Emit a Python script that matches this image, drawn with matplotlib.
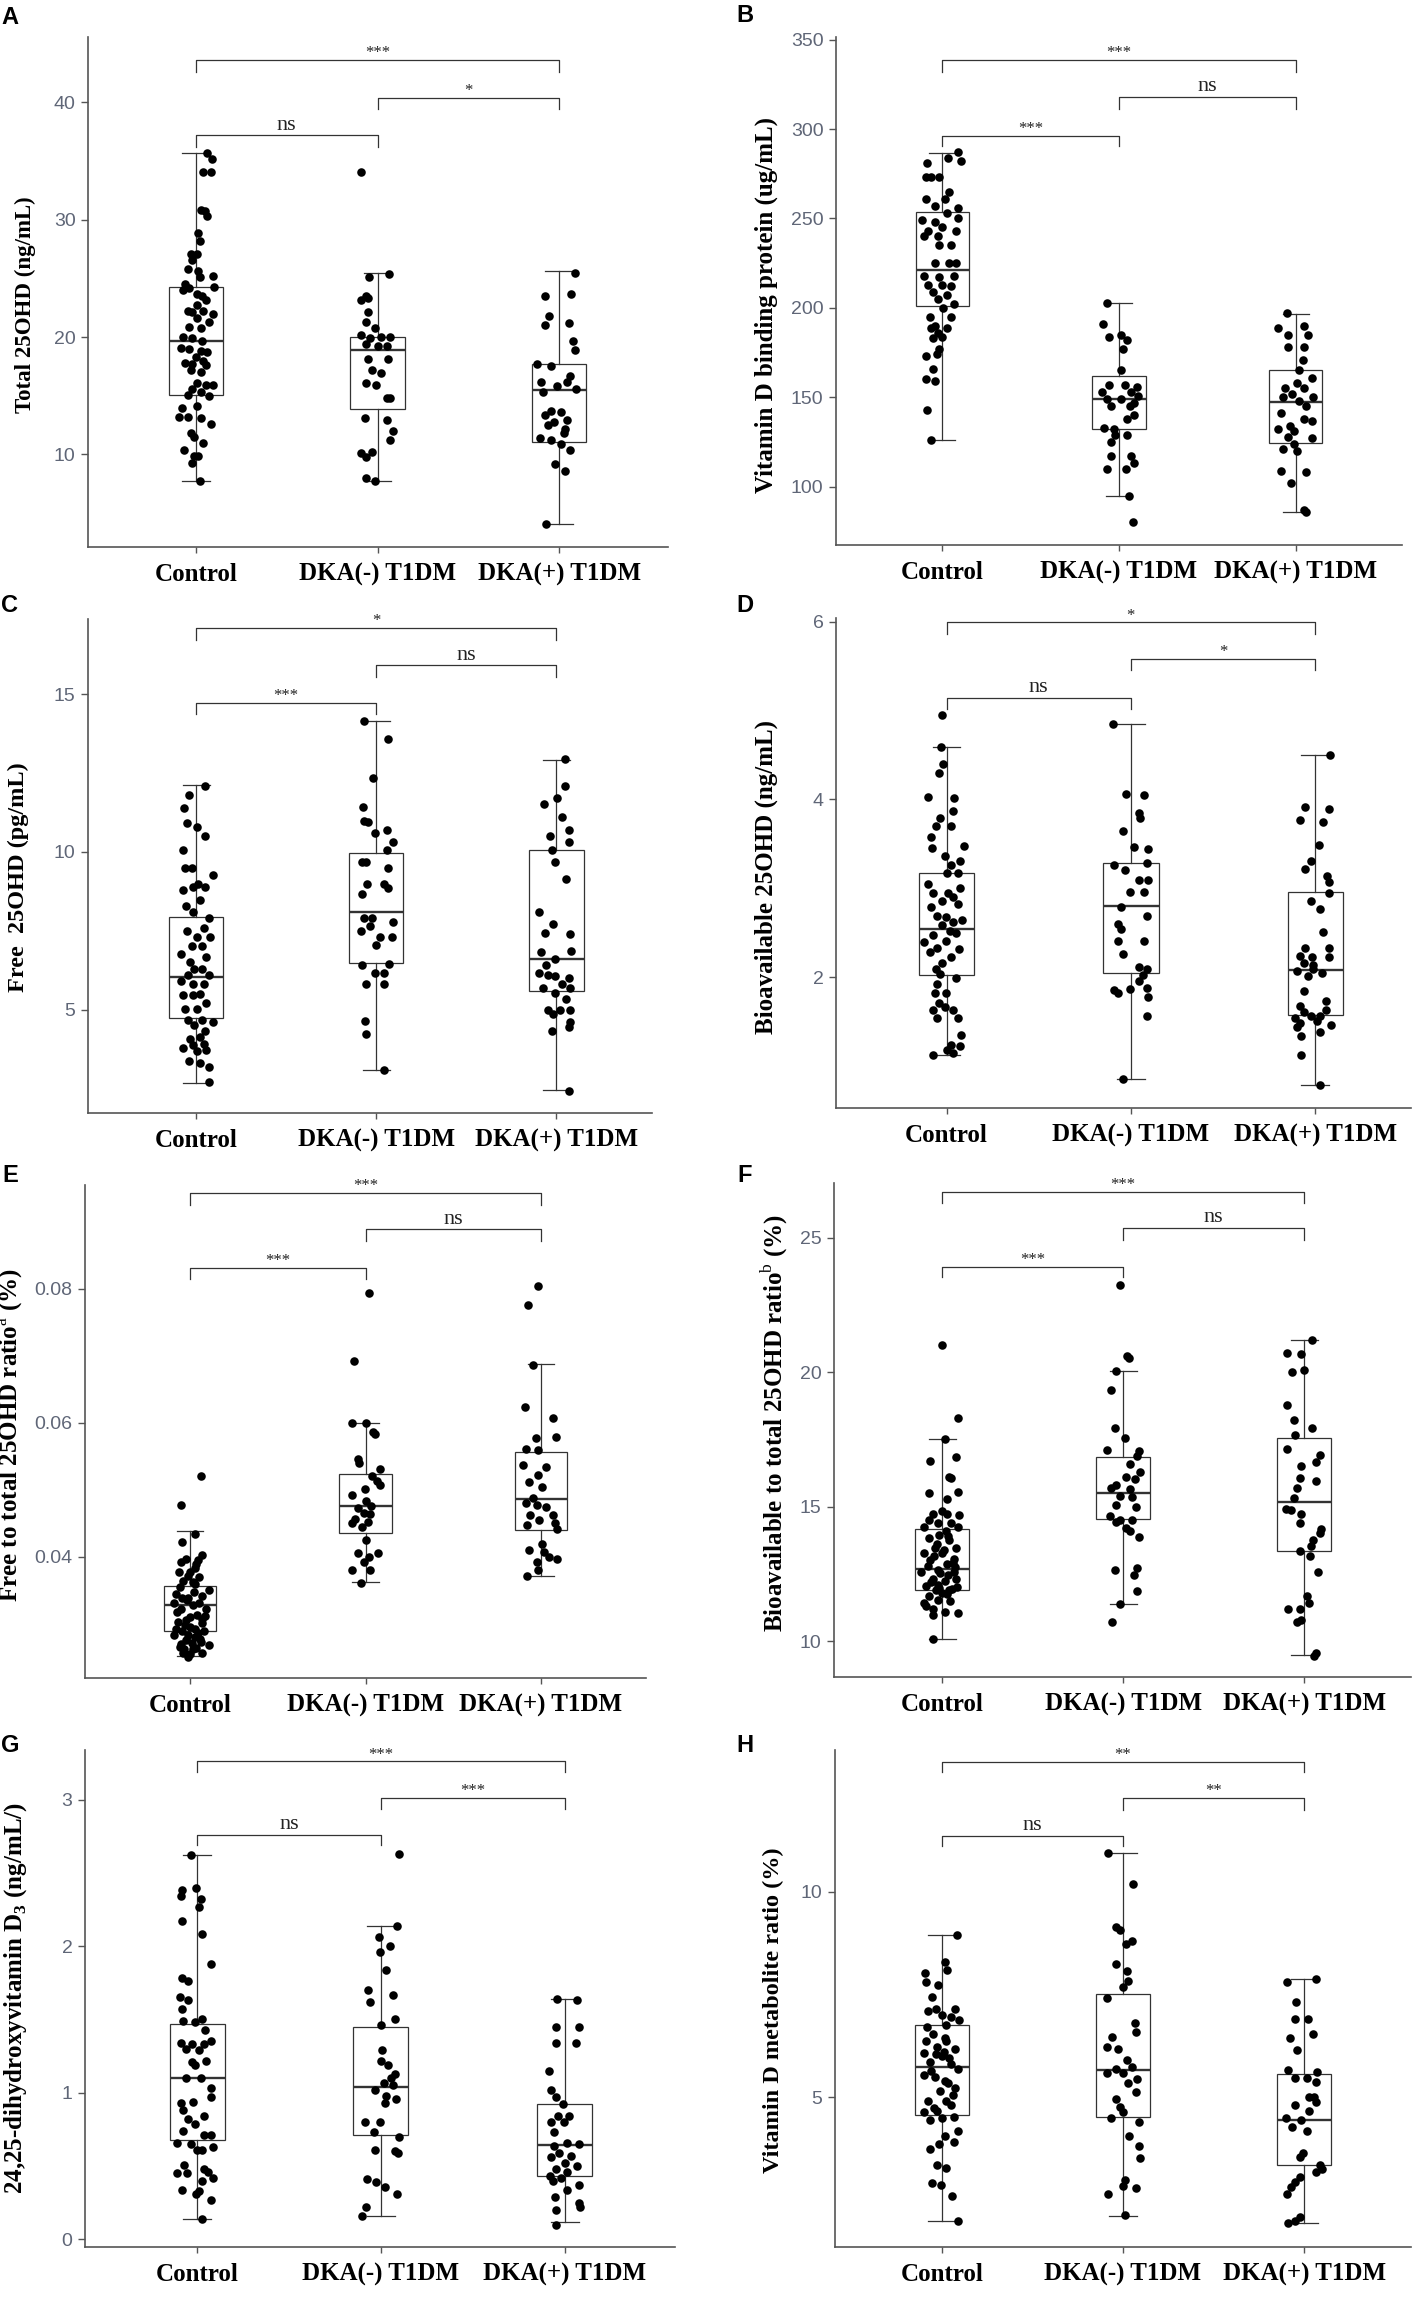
import matplotlib
matplotlib.use("Agg")
import matplotlib.pyplot as plt

plt.rcParams['mathtext.fontset'] = 'custom'
plt.rcParams['mathtext.rm'] = 'Liberation Serif'
plt.rcParams['mathtext.bf'] = 'Liberation Serif:bold'

groups = ["Control", "DKA(-) T1DM", "DKA(+) T1DM"]

# ---- data: (jitter, value) per point, box stats (whislo, q1, med, q3, whishi),
# ---- significance brackets (group1, group2, bar height, tip end, label)

# A: Total 25OHD
a_control = [(0.06, 35.7), (0.09, 35.2), (0.04, 34.1), (0.085, 34.1), (0.03, 30.8), (0.05, 30.7),
             (0.06, 30.3), (0.01, 28.9), (0.02, 28.2), (-0.025, 27.1), (0.005, 27.1), (-0.02, 26.6),
             (-0.045, 25.8), (0.01, 25.6), (0.095, 25.2), (0.02, 25.1), (-0.06, 24.5), (-0.07, 24.0),
             (-0.04, 24.2), (0.1, 24.3), (0.005, 23.7), (0.035, 23.5), (0.055, 23.2), (0.005, 22.7),
             (-0.045, 22.2), (-0.02, 22.1), (0.04, 22.2), (0.095, 22.0), (0.07, 21.3), (0.005, 21.6),
             (-0.04, 20.9), (0.03, 20.8), (-0.07, 20.0), (-0.02, 19.9), (0.035, 19.7), (-0.08, 19.1),
             (-0.04, 19.0), (0.025, 18.8), (0.06, 18.7), (0.0, 18.3), (0.04, 18.0), (-0.06, 17.8),
             (-0.02, 17.7), (0.055, 17.6), (-0.03, 17.2), (0.03, 17.0), (0.005, 16.1), (0.055, 15.9),
             (0.095, 15.9), (-0.02, 15.6), (0.025, 15.3), (-0.045, 15.1), (0.07, 15.0), (-0.075, 14.0),
             (0.005, 14.1), (-0.095, 13.2), (-0.045, 13.2), (0.03, 13.1), (0.085, 12.6), (-0.03, 11.8),
             (-0.01, 11.5), (0.04, 11.0), (-0.065, 10.4), (-0.01, 9.9), (0.01, 9.9), (-0.02, 9.3),
             (0.02, 7.7)]
a_dka_neg = [(-0.09, 34.1), (0.065, 25.4), (-0.045, 25.1), (-0.065, 23.5), (-0.09, 23.2), (-0.05, 23.3),
             (-0.05, 22.1), (-0.065, 21.3), (-0.015, 20.8), (-0.09, 20.2), (-0.04, 19.9), (0.02, 20.0),
             (0.07, 20.0), (-0.065, 19.4), (0.0, 19.2), (0.05, 19.2), (-0.05, 18.1), (0.06, 18.1),
             (-0.03, 17.2), (0.02, 16.9), (-0.065, 16.1), (-0.01, 15.9), (0.05, 14.8), (0.07, 14.8),
             (-0.07, 13.1), (0.05, 12.9), (0.085, 12.0), (0.07, 11.2), (-0.09, 10.1), (-0.03, 10.2),
             (-0.065, 9.8), (-0.065, 8.0), (-0.015, 7.7)]
a_dka_pos = [(0.09, 25.5), (-0.08, 23.5), (0.065, 23.7), (-0.055, 21.8), (-0.08, 21.0), (0.055, 21.2),
             (0.075, 19.7), (0.09, 18.9), (-0.12, 17.7), (-0.045, 17.5), (0.06, 16.7), (0.045, 16.2),
             (-0.1, 16.2), (-0.01, 15.8), (-0.09, 15.3), (0.095, 15.6), (-0.045, 13.7), (0.01, 13.6),
             (-0.08, 13.4), (0.045, 12.9), (-0.03, 12.8), (-0.06, 12.5), (0.035, 12.2), (0.025, 11.8),
             (-0.105, 11.4), (-0.045, 11.2), (0.01, 10.9), (0.06, 10.4), (-0.02, 9.2), (0.035, 8.6),
             (-0.07, 4.1)]
a_boxes = [(7.7, 15.1, 19.7, 24.3, 35.7), (7.7, 13.9, 18.9, 20.0, 25.5), (4.1, 11.1, 15.5, 17.7, 25.6)]
a_brackets = [(1, 3, 43.6, 42.55, "***"), (2, 3, 40.35, 39.4, "*"), (1, 2, 37.2, 36.2, "ns")]

# B: Vitamin D binding protein
b_control = [(0.09, 287), (0.035, 284), (0.105, 282), (-0.085, 281), (-0.065, 273), (-0.09, 273),
             (-0.015, 273), (0.04, 265), (0.015, 261), (-0.09, 261), (-0.04, 257), (0.09, 256),
             (0.025, 253), (0.09, 250), (-0.115, 249), (-0.04, 248), (-0.08, 243), (0.0, 245),
             (0.08, 243), (-0.105, 240), (-0.025, 240), (0.05, 235), (-0.015, 235), (0.04, 225),
             (-0.04, 225), (0.08, 225), (-0.105, 218), (-0.015, 217), (0.065, 218), (-0.08, 213),
             (0.0, 213), (0.05, 212), (-0.05, 209), (0.025, 207), (-0.025, 205), (0.065, 202),
             (0.005, 200), (-0.07, 195), (0.05, 195), (-0.04, 190), (0.025, 189), (-0.065, 189),
             (-0.025, 186), (-0.05, 183), (0.0, 184), (-0.015, 177), (-0.03, 174), (-0.09, 173),
             (-0.05, 166), (-0.09, 160), (-0.04, 159), (-0.085, 143), (-0.065, 126)]
b_dka_neg = [(-0.07, 203), (-0.09, 191), (0.01, 185), (-0.055, 184), (0.045, 182), (0.02, 177),
             (0.01, 165), (0.035, 157), (-0.055, 157), (0.1, 156), (-0.095, 153), (0.07, 153),
             (0.11, 151), (-0.07, 149), (0.01, 149), (0.085, 147), (-0.045, 145), (0.06, 145),
             (0.045, 138), (0.085, 140), (-0.085, 133), (-0.03, 132), (-0.02, 129), (0.045, 129),
             (-0.045, 125), (-0.045, 117), (0.07, 117), (0.085, 113), (-0.07, 110), (0.04, 110),
             (0.055, 95), (0.08, 80)]
b_dka_pos = [(-0.05, 197), (-0.1, 189), (0.045, 190), (-0.045, 185), (0.07, 185), (0.045, 178),
             (-0.045, 178), (0.04, 171), (0.015, 165), (0.09, 161), (0.005, 158), (-0.06, 155),
             (0.045, 155), (-0.02, 152), (-0.07, 150), (0.095, 150), (0.02, 148), (0.055, 145),
             (-0.085, 141), (0.045, 138), (0.09, 137), (-0.035, 134), (-0.1, 132), (-0.01, 131),
             (-0.045, 128), (0.09, 127), (-0.01, 124), (-0.07, 121), (0.005, 120), (-0.085, 109),
             (0.055, 108), (-0.03, 102), (0.045, 87), (0.055, 86)]
b_boxes = [(126, 200.9, 221.2, 253.8, 286.9), (95, 132.3, 148.8, 161.8, 203), (85.7, 124.4, 147.1, 165.3, 196.8)]
b_brackets = [(1, 3, 338.6, 331.9, "***"), (2, 3, 318, 311, "ns"), (1, 2, 296.4, 290.5, "***")]

# C: Free 25OHD
c_control = [(0.05, 12.1), (-0.04, 11.8), (-0.065, 11.4), (-0.05, 10.9), (0.005, 10.8), (0.05, 10.5),
             (-0.075, 10.05), (-0.06, 9.5), (-0.025, 9.5), (0.095, 9.25), (0.01, 8.97), (-0.075, 8.8),
             (-0.02, 8.9), (0.05, 8.9), (-0.055, 8.28), (0.02, 8.47), (-0.02, 8.08), (0.07, 7.9),
             (-0.05, 7.5), (0.045, 7.6), (0.005, 7.3), (0.075, 7.3), (-0.025, 7.0), (0.03, 7.0),
             (-0.085, 6.77), (0.055, 6.65), (-0.035, 6.5), (-0.01, 6.3), (0.03, 6.3), (-0.045, 6.1),
             (0.07, 6.1), (-0.085, 5.9), (-0.02, 5.8), (0.045, 5.8), (0.02, 5.5), (-0.075, 5.45),
             (-0.02, 5.45), (0.055, 5.2), (-0.06, 5.03), (0.005, 5.03), (-0.045, 4.68), (0.03, 4.68),
             (0.095, 4.6), (-0.01, 4.5), (0.05, 4.32), (-0.035, 4.05), (0.02, 4.14), (-0.02, 3.88),
             (0.045, 3.9), (-0.075, 3.78), (0.005, 3.69), (0.055, 3.72), (-0.04, 3.37), (0.02, 3.3),
             (0.07, 3.19), (0.07, 2.7)]
c_dka_neg = [(-0.07, 14.14), (0.065, 13.59), (-0.02, 12.34), (-0.075, 11.42), (-0.07, 10.98), (-0.045, 10.94),
             (0.06, 10.7), (-0.005, 10.6), (0.09, 10.3), (0.06, 10.05), (-0.08, 9.69), (-0.055, 9.69),
             (0.065, 9.49), (-0.05, 8.97), (0.045, 8.97), (0.065, 8.85), (-0.08, 8.65), (-0.07, 7.9),
             (-0.025, 7.9), (0.095, 7.78), (-0.085, 7.48), (-0.035, 7.66), (0.02, 7.3), (0.0, 7.06),
             (0.085, 7.3), (-0.08, 6.41), (0.07, 6.43), (-0.01, 6.17), (0.04, 6.17), (-0.055, 5.81),
             (0.04, 5.81), (-0.06, 4.64), (-0.055, 4.24), (0.045, 3.07)]
c_dka_pos = [(0.045, 12.95), (0.045, 12.1), (-0.07, 11.5), (0.005, 11.7), (0.03, 11.1), (-0.035, 10.5),
             (0.07, 10.7), (0.07, 10.3), (-0.025, 10.05), (-0.01, 9.69), (0.05, 9.13), (-0.095, 8.08),
             (-0.02, 7.7), (-0.065, 7.42), (0.075, 7.39), (0.08, 6.86), (-0.085, 6.83), (-0.01, 6.59),
             (-0.06, 6.41), (-0.095, 6.17), (-0.045, 6.11), (-0.01, 6.05), (0.07, 5.99), (0.03, 5.81),
             (-0.075, 5.67), (-0.01, 5.51), (0.075, 5.67), (0.055, 5.33), (-0.045, 5.0), (0.02, 5.0),
             (-0.02, 4.86), (0.075, 5.0), (0.07, 4.44), (-0.025, 4.32), (0.075, 4.62), (0.07, 2.41)]
c_boxes = [(2.67, 4.74, 6.03, 7.92, 12.11), (3.07, 6.47, 8.1, 9.96, 14.14), (2.45, 5.6, 6.59, 10.05, 12.91)]
c_brackets = [(1, 3, 17.09, 16.71, "*"), (2, 3, 15.92, 15.53, "ns"), (1, 2, 14.73, 14.37, "***")]

# D: Bioavailable 25OHD
d_control = [(-0.025, 4.95), (-0.03, 4.59), (-0.02, 4.4), (-0.04, 4.3), (-0.1, 4.03), (0.04, 4.01),
             (0.035, 3.87), (-0.035, 3.79), (0.025, 3.7), (-0.055, 3.7), (-0.085, 3.58), (-0.08, 3.45),
             (0.095, 3.47), (-0.01, 3.36), (0.075, 3.3), (0.025, 3.26), (0.06, 3.17), (0.0, 3.17),
             (-0.1, 3.05), (0.075, 3.0), (-0.075, 2.94), (0.01, 2.94), (0.035, 2.9), (-0.025, 2.86),
             (0.06, 2.82), (-0.085, 2.79), (-0.05, 2.69), (-0.005, 2.67), (0.035, 2.62), (0.085, 2.64),
             (-0.025, 2.58), (0.02, 2.52), (0.05, 2.5), (-0.075, 2.47), (-0.125, 2.39), (-0.005, 2.41),
             (-0.05, 2.33), (0.07, 2.31), (-0.09, 2.28), (0.025, 2.22), (-0.025, 2.16), (-0.06, 2.09),
             (-0.035, 2.03), (0.05, 1.99), (-0.05, 1.92), (-0.065, 1.82), (-0.005, 1.82), (-0.04, 1.71),
             (-0.01, 1.66), (-0.075, 1.63), (0.035, 1.63), (-0.05, 1.54), (0.06, 1.54), (0.08, 1.35),
             (0.025, 1.24), (0.0, 1.18), (0.075, 1.22), (-0.075, 1.12), (0.035, 1.14)]
d_dka_neg = [(-0.095, 4.85), (-0.025, 4.06), (0.07, 4.05), (0.045, 3.85), (0.05, 3.79), (-0.045, 3.64),
             (0.015, 3.46), (0.095, 3.44), (0.085, 3.28), (-0.09, 3.26), (-0.03, 3.2), (0.045, 3.09),
             (0.095, 3.09), (-0.005, 2.96), (0.07, 2.96), (-0.055, 2.79), (0.085, 2.69), (-0.07, 2.6),
             (-0.055, 2.54), (-0.07, 2.41), (0.07, 2.41), (-0.045, 2.26), (0.045, 2.11), (0.085, 2.09),
             (0.065, 2.02), (0.045, 1.95), (0.085, 1.88), (-0.09, 1.85), (-0.07, 1.82), (-0.005, 1.86),
             (0.095, 1.78), (0.085, 1.56), (-0.04, 0.85)]
d_dka_pos = [(0.08, 4.5), (-0.055, 3.91), (0.075, 3.89), (-0.08, 3.77), (0.045, 3.75), (0.02, 3.49),
             (-0.02, 3.31), (-0.055, 3.22), (0.065, 3.14), (0.075, 3.07), (0.075, 2.95), (-0.025, 2.86),
             (0.025, 2.77), (0.04, 2.51), (-0.055, 2.33), (0.075, 2.33), (-0.085, 2.24), (-0.015, 2.22),
             (0.075, 2.22), (-0.06, 2.16), (-0.01, 2.14), (-0.1, 2.07), (-0.01, 2.09), (-0.04, 2.01),
             (0.035, 2.05), (-0.06, 1.84), (0.06, 1.73), (-0.08, 1.67), (-0.06, 1.61), (-0.11, 1.54),
             (-0.025, 1.56), (0.06, 1.63), (0.025, 1.56), (-0.085, 1.48), (-0.1, 1.44), (0.085, 1.46),
             (0.01, 1.5), (-0.075, 1.34), (0.025, 1.38), (-0.075, 1.12), (0.025, 0.79)]
d_boxes = [(1.12, 2.02, 2.54, 3.17, 4.59), (0.85, 2.04, 2.8, 3.28, 4.85), (0.78, 1.57, 2.08, 2.96, 4.5)]
d_brackets = [(1, 3, 5.99, 5.86, "*"), (2, 3, 5.58, 5.45, "*"), (1, 2, 5.14, 5.02, "ns")]

# E: Free to total 25OHD ratio
e_control = [(0.06, 0.0521), (-0.055, 0.0478), (0.025, 0.0434), (-0.045, 0.0422), (0.065, 0.0403),
             (-0.025, 0.0397), (0.035, 0.0389), (-0.065, 0.0378), (0.0, 0.0378), (0.05, 0.037),
             (-0.04, 0.0364), (0.025, 0.0359), (0.105, 0.035), (-0.08, 0.0345), (-0.015, 0.0339),
             (0.065, 0.0342), (-0.095, 0.0331), (0.015, 0.0328), (-0.05, 0.0323), (0.09, 0.0323),
             (0.04, 0.0314), (-0.025, 0.0306), (-0.07, 0.0303), (0.065, 0.0301), (0.0, 0.0295),
             (-0.045, 0.029), (0.08, 0.029), (-0.09, 0.0284), (0.025, 0.0281), (-0.025, 0.0276),
             (0.06, 0.0273), (-0.05, 0.027), (0.105, 0.0268), (0.015, 0.0262), (-0.04, 0.0257),
             (0.065, 0.0257), (-0.015, 0.0251), (-0.06, 0.0355), (0.02, 0.0348), (-0.02, 0.0335),
             (0.05, 0.0332), (-0.075, 0.0318), (0.0, 0.031), (0.07, 0.0308), (-0.03, 0.0298),
             (0.03, 0.0293), (-0.08, 0.0292), (0.045, 0.0286), (-0.01, 0.0283), (0.01, 0.0272),
             (-0.06, 0.0266), (0.035, 0.0264), (0.0, 0.0255), (-0.035, 0.0262), (0.055, 0.0278),
             (-0.045, 0.0338), (0.085, 0.0312), (0.015, 0.0362), (-0.01, 0.0371), (0.03, 0.0384),
             (-0.055, 0.0392), (0.045, 0.0396)]
e_dka_neg = [(0.02, 0.0794), (-0.065, 0.0692), (0.0, 0.06), (-0.075, 0.0599), (0.045, 0.0586),
             (0.055, 0.0584), (-0.045, 0.0546), (-0.035, 0.054), (0.08, 0.0531), (0.035, 0.0521),
             (0.065, 0.0513), (0.085, 0.0508), (-0.005, 0.0502), (-0.075, 0.0493), (0.005, 0.0484),
             (0.03, 0.0476), (-0.04, 0.0473), (-0.01, 0.0465), (0.025, 0.0464), (-0.06, 0.0456),
             (0.015, 0.0452), (-0.02, 0.0445), (-0.075, 0.045), (0.005, 0.0425), (-0.045, 0.0406),
             (0.07, 0.0406), (0.02, 0.04), (-0.01, 0.0393), (-0.075, 0.0381), (0.025, 0.0381),
             (-0.025, 0.0361)]
e_dka_pos = [(-0.015, 0.0804), (-0.075, 0.0775), (-0.045, 0.0686), (-0.09, 0.0623), (0.07, 0.0607),
             (-0.03, 0.0578), (0.085, 0.0579), (-0.085, 0.0561), (-0.015, 0.056), (-0.1, 0.0537),
             (0.03, 0.0534), (-0.015, 0.0522), (-0.065, 0.0511), (0.005, 0.0504), (-0.045, 0.0488),
             (-0.085, 0.048), (-0.02, 0.0478), (0.03, 0.0474), (-0.06, 0.0463), (0.07, 0.0463),
             (-0.01, 0.0455), (0.08, 0.045), (-0.08, 0.0447), (0.09, 0.0441), (0.005, 0.0419),
             (-0.065, 0.0411), (0.02, 0.0407), (0.045, 0.04), (0.09, 0.0397), (-0.02, 0.0392),
             (-0.015, 0.0381), (-0.08, 0.0371)]
e_boxes = [(0.0252, 0.0289, 0.0328, 0.0357, 0.0439), (0.0362, 0.0436, 0.0476, 0.0524, 0.06),
           (0.0371, 0.044, 0.0486, 0.0557, 0.0687)]
e_brackets = [(1, 3, 0.09429, 0.09253, "***"), (2, 3, 0.08887, 0.08711, "ns"), (1, 2, 0.08315, 0.08149, "***")]

# F: Bioavailable to total 25OHD ratio
f_control = [(0.0, 21.0), (0.09, 18.3), (0.015, 17.5), (-0.065, 16.7), (0.075, 16.85), (0.04, 16.1),
             (0.05, 16.05), (-0.075, 15.5), (0.09, 15.55), (0.025, 15.27), (-0.05, 14.72), (0.025, 14.72),
             (0.095, 14.7), (-0.1, 14.24), (-0.025, 14.38), (0.05, 14.38), (0.09, 14.24), (-0.015, 13.96),
             (-0.075, 13.83), (0.04, 13.76), (0.075, 13.48), (-0.04, 13.48), (-0.1, 13.27), (0.0, 13.27),
             (0.065, 13.07), (-0.065, 13.0), (0.025, 12.86), (-0.025, 12.66), (-0.115, 12.59), (0.065, 12.59),
             (-0.05, 12.31), (0.015, 12.24), (0.075, 12.31), (-0.09, 12.04), (-0.015, 11.97), (0.04, 11.9),
             (-0.075, 11.69), (-0.025, 11.55), (0.025, 11.76), (-0.1, 11.42), (-0.05, 11.21), (0.015, 11.07),
             (0.09, 11.05), (-0.05, 10.96), (-0.05, 10.08), (-0.03, 13.6), (0.01, 13.4), (0.06, 12.9),
             (-0.08, 12.8), (0.03, 12.45), (-0.02, 12.1), (0.055, 11.95), (-0.06, 12.2), (0.0, 11.8),
             (0.08, 12.0), (-0.045, 13.15), (0.035, 13.9), (-0.07, 14.5), (0.02, 14.1), (0.07, 12.75),
             (-0.01, 12.55), (-0.09, 11.3), (0.045, 11.5), (0.0, 14.85), (-0.035, 11.9)]
f_dka_neg = [(-0.015, 23.25), (0.02, 20.6), (0.035, 20.54), (-0.04, 20.06), (-0.065, 19.33), (-0.045, 17.93),
             (0.01, 17.57), (-0.09, 17.1), (0.09, 17.06), (0.075, 16.88), (0.04, 16.58), (0.095, 16.3),
             (0.015, 16.1), (0.065, 16.03), (-0.04, 15.82), (-0.065, 15.68), (0.04, 15.64), (-0.015, 15.41),
             (0.05, 15.37), (-0.04, 15.06), (0.07, 14.99), (-0.075, 14.65), (-0.015, 14.51), (0.05, 14.51),
             (-0.04, 14.44), (0.015, 14.21), (0.04, 14.1), (0.085, 13.89), (-0.045, 12.66), (0.075, 12.72),
             (0.06, 12.45), (0.075, 11.86), (-0.02, 11.38), (-0.06, 10.73)]
f_dka_pos = [(0.045, 21.19), (-0.095, 20.73), (-0.015, 20.68), (-0.065, 20.02), (0.0, 20.09), (-0.095, 18.78),
             (-0.055, 18.23), (0.045, 17.93), (-0.05, 17.65), (-0.095, 17.16), (0.09, 16.92), (0.065, 16.65),
             (-0.015, 16.51), (-0.025, 16.05), (0.065, 15.96), (-0.04, 15.68), (-0.055, 15.34), (-0.1, 14.93),
             (-0.075, 14.86), (-0.015, 14.72), (-0.025, 14.4), (0.095, 14.17), (0.09, 14.03), (0.05, 13.76),
             (0.04, 13.55), (-0.025, 13.34), (0.03, 13.17), (0.075, 12.59), (0.015, 11.69), (0.025, 11.42),
             (-0.09, 11.21), (-0.025, 11.21), (-0.015, 10.8), (-0.04, 10.73), (0.065, 9.56), (0.055, 9.45)]
f_boxes = [(10.08, 11.9, 12.68, 14.17, 17.51), (11.38, 14.54, 15.5, 16.85, 20.06), (9.49, 13.37, 15.16, 17.57, 21.19)]
f_brackets = [(1, 3, 26.70, 26.28, "***"), (2, 3, 25.36, 24.93, "ns"), (1, 2, 23.92, 23.55, "***")]

# G: 24,25-dihydroxyvitamin D3
g_control = [(-0.035, 2.62), (-0.08, 2.38), (-0.005, 2.4), (-0.085, 2.34), (0.02, 2.32), (0.01, 2.27),
             (-0.08, 2.17), (0.025, 2.08), (0.075, 1.88), (-0.08, 1.78), (-0.05, 1.76), (-0.095, 1.65),
             (-0.05, 1.63), (-0.08, 1.57), (0.025, 1.5), (-0.075, 1.49), (-0.01, 1.48), (0.045, 1.43),
             (-0.085, 1.34), (-0.03, 1.33), (0.035, 1.33), (-0.06, 1.3), (0.01, 1.29), (0.075, 1.35),
             (-0.03, 1.21), (-0.01, 1.19), (0.05, 1.22), (-0.06, 1.1), (0.02, 1.1), (0.075, 1.03),
             (-0.085, 0.93), (-0.025, 0.94), (0.075, 0.97), (-0.075, 0.88), (0.035, 0.84), (-0.05, 0.82),
             (-0.01, 0.79), (-0.075, 0.74), (0.035, 0.71), (0.075, 0.71), (-0.11, 0.66), (-0.035, 0.65),
             (0.025, 0.61), (0.085, 0.63), (0.0, 0.61), (-0.07, 0.51), (0.035, 0.48), (-0.11, 0.45),
             (-0.055, 0.45), (0.06, 0.46), (0.085, 0.42), (0.025, 0.4), (-0.08, 0.34), (0.01, 0.33),
             (0.075, 0.27), (-0.005, 0.31), (0.025, 0.14)]
g_dka_neg = [(0.1, 2.63), (0.085, 2.14), (-0.01, 2.06), (0.05, 2.0), (-0.005, 1.96), (0.025, 1.84),
             (-0.07, 1.7), (-0.06, 1.62), (0.065, 1.67), (0.075, 1.5), (0.0, 1.46), (0.005, 1.29),
             (0.0, 1.22), (0.04, 1.19), (0.075, 1.13), (0.055, 1.1), (0.015, 1.07), (0.065, 1.05),
             (-0.03, 1.02), (0.03, 0.98), (0.08, 0.96), (0.02, 0.93), (-0.085, 0.8), (-0.005, 0.8),
             (-0.04, 0.73), (0.1, 0.7), (-0.03, 0.61), (0.095, 0.59), (0.075, 0.6), (-0.075, 0.41),
             (-0.025, 0.39), (0.02, 0.36), (0.09, 0.31), (-0.08, 0.22), (-0.105, 0.16)]
g_dka_pos = [(-0.04, 1.64), (0.065, 1.63), (-0.05, 1.45), (0.08, 1.45), (-0.05, 1.34), (0.06, 1.34),
             (-0.085, 1.15), (-0.075, 1.02), (-0.05, 0.97), (-0.01, 0.92), (-0.035, 0.84), (0.025, 0.84),
             (-0.075, 0.8), (-0.005, 0.8), (-0.06, 0.73), (0.01, 0.66), (0.075, 0.65), (-0.06, 0.64),
             (-0.03, 0.59), (0.035, 0.57), (-0.075, 0.56), (0.0, 0.52), (0.065, 0.5), (-0.05, 0.48),
             (0.01, 0.46), (-0.08, 0.43), (-0.02, 0.42), (-0.065, 0.4), (0.075, 0.37), (0.01, 0.34),
             (-0.055, 0.29), (0.075, 0.25), (0.085, 0.22), (-0.05, 0.2), (-0.05, 0.1)]
g_boxes = [(0.14, 0.68, 1.10, 1.47, 2.62), (0.16, 0.71, 1.04, 1.45, 2.14), (0.12, 0.43, 0.645, 0.92, 1.64)]
g_brackets = [(1, 3, 3.261, 3.186, "***"), (2, 3, 3.013, 2.937, "***"), (1, 2, 2.761, 2.69, "ns")]

# H: Vitamin D metabolite ratio
h_control = [(0.085, 8.95), (0.02, 8.29), (0.03, 8.11), (-0.095, 8.03), (-0.02, 7.73), (-0.09, 7.8),
             (-0.055, 7.45), (-0.075, 7.09), (-0.035, 7.14), (0.0, 7.0), (0.07, 7.16), (0.05, 6.95),
             (0.095, 6.88), (0.025, 6.75), (-0.05, 6.55), (-0.09, 6.36), (0.025, 6.36), (-0.025, 6.23),
             (0.075, 6.18), (-0.1, 6.09), (0.0, 6.0), (0.04, 5.95), (-0.065, 5.86), (0.09, 5.68),
             (-0.1, 5.55), (-0.04, 5.5), (0.015, 5.41), (0.075, 5.23), (-0.075, 4.91), (0.025, 4.91),
             (0.05, 4.82), (-0.1, 4.64), (-0.025, 4.68), (0.065, 4.53), (0.0, 4.5), (-0.065, 4.45),
             (0.09, 4.18), (0.015, 4.05), (-0.015, 3.86), (-0.065, 3.75), (0.065, 3.91), (-0.025, 3.36),
             (0.025, 3.27), (-0.055, 2.91), (-0.005, 2.86), (0.055, 2.59), (0.09, 2.0), (0.01, 6.1),
             (-0.03, 6.05), (0.05, 5.8), (-0.06, 5.65), (0.035, 5.35), (-0.01, 5.15), (0.06, 5.05),
             (-0.045, 4.75), (0.02, 6.45), (-0.08, 6.7)]
h_dka_neg = [(-0.085, 10.94), (0.055, 10.2), (-0.04, 9.14), (-0.015, 9.07), (0.05, 8.8), (0.015, 8.73),
             (-0.04, 8.25), (0.02, 8.07), (0.025, 7.82), (0.0, 7.68), (-0.09, 7.41), (0.065, 6.82),
             (0.07, 6.59), (-0.06, 6.47), (-0.09, 6.23), (-0.025, 6.18), (0.02, 5.91), (0.05, 5.73),
             (-0.04, 5.68), (-0.09, 5.59), (0.0, 5.59), (0.075, 5.45), (0.025, 5.36), (0.07, 5.14),
             (-0.04, 4.95), (-0.015, 4.77), (0.0, 4.64), (-0.065, 4.5), (0.09, 4.41), (0.035, 4.05),
             (0.09, 3.82), (0.095, 3.53), (0.01, 2.98), (0.07, 2.8), (0.0, 2.85), (-0.085, 2.64),
             (0.01, 2.14)]
h_dka_pos = [(0.065, 7.89), (-0.095, 7.8), (-0.045, 7.32), (-0.05, 6.91), (0.02, 6.91), (0.05, 6.55),
             (-0.08, 6.44), (-0.04, 6.16), (-0.09, 5.66), (0.07, 5.62), (-0.05, 5.47), (0.015, 5.47),
             (0.065, 5.38), (0.025, 5.02), (0.055, 5.0), (0.065, 4.89), (-0.05, 4.82), (0.025, 4.68),
             (-0.1, 4.5), (-0.015, 4.45), (-0.065, 4.27), (0.015, 4.18), (-0.005, 3.64), (-0.025, 3.55),
             (0.09, 3.36), (0.1, 3.25), (0.065, 3.18), (-0.025, 3.07), (-0.05, 2.93), (-0.075, 2.82),
             (-0.095, 2.64), (-0.025, 2.09), (-0.05, 2.0), (-0.09, 1.95)]
h_boxes = [(2.0, 4.57, 5.75, 6.77, 8.95), (2.11, 4.53, 5.66, 7.52, 10.95), (1.95, 3.36, 4.44, 5.57, 7.89)]
h_brackets = [(1, 3, 13.17, 12.91, "**"), (2, 3, 12.29, 12.0, "**"), (1, 2, 11.36, 11.11, "ns")]

# ---- layout (pixel positions within the 1418 x 2306 canvas) ----
W, H = 1418, 2306
LINE = "#333333"
AXIS = "#555555"
TICKLAB = "#5f6677"

panels = [
    dict(letter="A", pts=(a_control, a_dka_neg, a_dka_pos), boxes=a_boxes, br=a_brackets,
         rect=(88, 37, 668, 547), xl=(0.405, 3.6), yl=(2.12, 45.56), yt=[10, 20, 30, 40],
         label="Total 25OHD (ng/mL)", lsize=16.5, lab=(25, 305), let=(10, 17)),
    dict(letter="B", pts=(b_control, b_dka_neg, b_dka_pos), boxes=b_boxes, br=b_brackets,
         rect=(836, 37, 1402, 545), xl=(0.4, 3.6), yl=(67.4, 351.5), yt=[100, 150, 200, 250, 300, 350],
         label="Vitamin D binding protein (ug/mL)", lsize=18, lab=(766, 305), let=(745, 16)),
    dict(letter="C", pts=(c_control, c_dka_neg, c_dka_pos), boxes=c_boxes, br=c_brackets,
         rect=(88, 619, 652, 1113), xl=(0.4, 3.53), yl=(1.72, 17.38), yt=[5, 10, 15],
         label="Free  25OHD (pg/mL)", lsize=17.5, lab=(18, 877), let=(10, 606)),
    dict(letter="D", pts=(d_control, d_dka_neg, d_dka_pos), boxes=d_boxes, br=d_brackets,
         rect=(836, 618, 1411, 1108), xl=(0.4, 3.52), yl=(0.526, 6.04), yt=[2, 4, 6],
         label="Bioavailable 25OHD (ng/mL)", lsize=18, lab=(766, 877), let=(745, 606)),
    dict(letter="E", pts=(e_control, e_dka_neg, e_dka_pos), boxes=e_boxes, br=e_brackets,
         rect=(85, 1185, 646, 1678), xl=(0.4, 3.6), yl=(0.02194, 0.09547), yt=[0.04, 0.06, 0.08],
         label=r"Free to total 25OHD ratio$^{\mathrm{a}}$ (%)", lsize=18, lab=(11, 1435), let=(10, 1175)),
    dict(letter="F", pts=(f_control, f_dka_neg, f_dka_pos), boxes=f_boxes, br=f_brackets,
         rect=(834, 1183, 1411, 1677), xl=(0.403, 3.59), yl=(8.67, 27.03), yt=[10, 15, 20, 25],
         label=r"Bioavailable to total 25OHD ratio$^{\mathrm{b}}$ (%)", lsize=18, lab=(775, 1423), let=(745, 1175)),
    dict(letter="G", pts=(g_control, g_dka_neg, g_dka_pos), boxes=g_boxes, br=g_brackets,
         rect=(85, 1750, 675, 2247), xl=(0.39, 3.6), yl=(-0.052, 3.338), yt=[0, 1, 2, 3],
         label=r"24,25-dihydroxyvitamin D$_{\mathbf{3}}$ (ng/mL/)", lsize=18, lab=(16, 1998), let=(10, 1745)),
    dict(letter="H", pts=(h_control, h_dka_neg, h_dka_pos), boxes=h_boxes, br=h_brackets,
         rect=(835, 1750, 1411, 2247), xl=(0.41, 3.59), yl=(1.36, 13.45), yt=[5, 10],
         label="Vitamin D metabolite ratio (%)", lsize=17.5, lab=(773, 2010), let=(745, 1745)),
]


def draw_panel(fig, p):
    l, t, r, b = p["rect"]
    ax = fig.add_axes([l / W, 1 - b / H, (r - l) / W, (b - t) / H])

    stats = []
    for lo, q1, med, q3, hi in p["boxes"]:
        stats.append(dict(whislo=lo, q1=q1, med=med, q3=q3, whishi=hi, fliers=[]))
    ax.bxp(stats, positions=[1, 2, 3], widths=0.3, capwidths=0.15, showfliers=False,
           patch_artist=True,
           boxprops=dict(facecolor="white", edgecolor=LINE, linewidth=0.9),
           whiskerprops=dict(color=LINE, linewidth=0.9),
           capprops=dict(color=LINE, linewidth=0.9),
           medianprops=dict(color=LINE, linewidth=1.7))

    for i, grp in enumerate(p["pts"]):
        xs = [i + 1 + j for j, _ in grp]
        ys = [v for _, v in grp]
        ax.scatter(xs, ys, s=38, c="black", linewidths=0, zorder=5)

    for g1, g2, y, tip, lab in p["br"]:
        ax.plot([g1, g1, g2, g2], [tip, y, y, tip], color=LINE, lw=0.9, clip_on=False, zorder=3)
        size = 16 if lab == "ns" else 12
        off = 4 if lab == "ns" else 2
        ax.annotate(lab, xy=((g1 + g2) / 2, y), xytext=(0, off), textcoords="offset points",
                    ha="center", va="baseline", fontsize=size, color="#222222",
                    family="Liberation Serif")

    ax.set_xlim(*p["xl"])
    ax.set_ylim(*p["yl"])
    ax.set_xticks([1, 2, 3])
    ax.set_xticklabels(groups, fontsize=18, fontweight="bold", family="Liberation Serif", color="black")
    ax.set_yticks(p["yt"])
    ax.set_yticklabels(["%g" % v for v in p["yt"]], fontsize=14, family="Liberation Sans",
                       color=TICKLAB)
    ax.tick_params(axis="x", length=4.5, width=1.0, color=AXIS, pad=7)
    ax.tick_params(axis="y", length=5, width=1.0, color=AXIS, pad=4)
    for side in ("top", "right"):
        ax.spines[side].set_visible(False)
    for side in ("left", "bottom"):
        ax.spines[side].set_color(AXIS)
        ax.spines[side].set_linewidth(1.2)

    ax.set_ylabel(p["label"], fontsize=p["lsize"], fontweight="bold", family="Liberation Serif")
    lx, ly = p["lab"]
    ax.yaxis.set_label_coords((lx - l) / (r - l), (b - ly) / (b - t))
    ax.yaxis.label.set_va("center")

    fx, fy = p["let"]
    fig.text(fx / W, 1 - fy / H, p["letter"], ha="center", va="center", fontsize=17,
             fontweight="bold", family="Liberation Sans")


fig = plt.figure(figsize=(W / 100, H / 100), dpi=100)
fig.patch.set_facecolor("white")
for p in panels:
    draw_panel(fig, p)

fig.savefig("out.png", dpi=100, facecolor="white")
